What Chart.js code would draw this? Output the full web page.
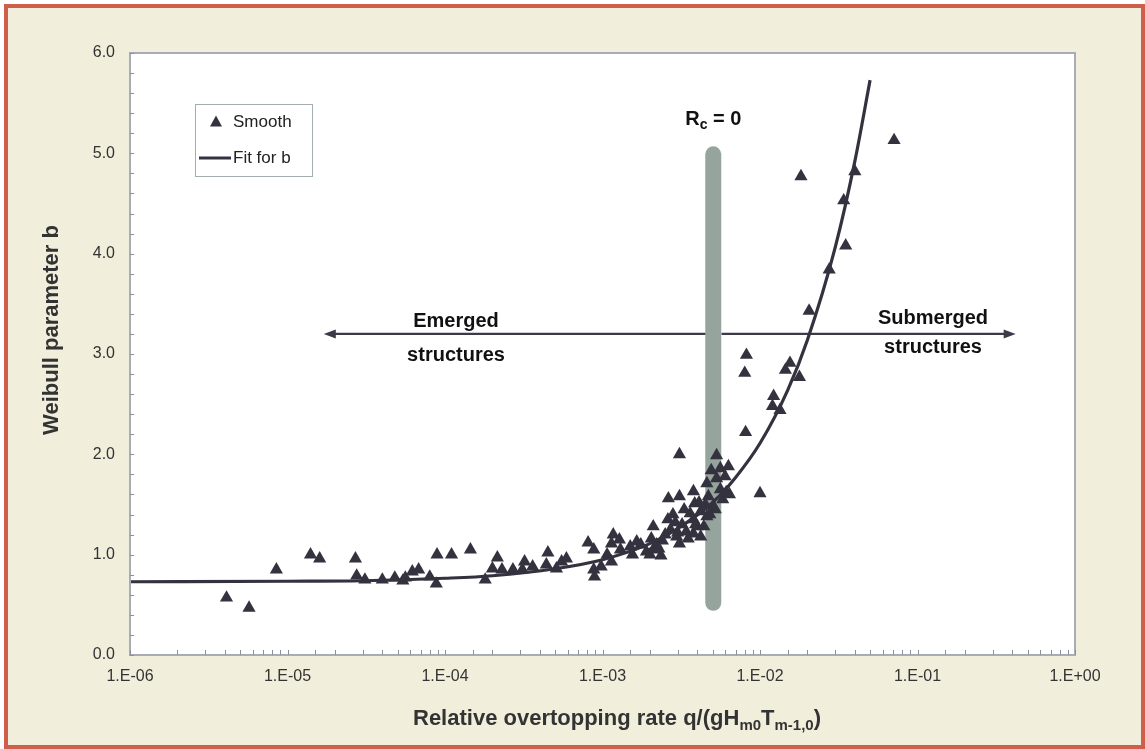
<!DOCTYPE html>
<html>
<head>
<meta charset="utf-8">
<script src="https://cdn.jsdelivr.net/npm/chart.js@4.4.0/dist/chart.umd.min.js"></script>
<style>
  html, body { margin: 0; padding: 0; background: #fff; }
  #frame {
    position: absolute; left: 4px; top: 4px; width: 1141px; height: 745px;
    box-sizing: border-box; border: 4px solid #cf5e4a; background: #f1efdc;
  }
  canvas { position: absolute; left: 0; top: 0; }
</style>
</head>
<body>
<div id="frame"></div>
<canvas id="chart" width="1145" height="749"></canvas>
<script>
// measured points ("Smooth")
const smoothQ = [
  4.1e-6, 5.7e-6, 8.5e-6, 1.4e-5, 1.6e-5, 2.7e-5, 2.75e-5, 3.1e-5, 4.0e-5, 4.8e-5,
  5.4e-5, 5.6e-5, 6.2e-5, 6.8e-5, 8.0e-5, 8.8e-5, 8.9e-5, 1.1e-4, 1.45e-4, 1.8e-4,
  2.0e-4, 2.15e-4, 2.3e-4, 2.7e-4, 3.1e-4, 3.2e-4, 3.6e-4, 4.4e-4, 4.5e-4, 5.1e-4,
  5.5e-4, 5.9e-4, 8.1e-4, 8.8e-4, 8.8e-4, 8.9e-4, 9.8e-4, 1.07e-3, 1.14e-3, 1.14e-3,
  1.17e-3, 1.28e-3, 1.3e-3, 1.5e-3, 1.55e-3, 1.65e-3, 1.75e-3, 1.9e-3, 2.0e-3, 2.04e-3,
  2.1e-3, 2.1e-3, 2.2e-3, 2.28e-3, 2.35e-3, 2.5e-3, 2.62e-3, 2.7e-3, 2.8e-3, 2.96e-3,
  3.08e-3, 3.08e-3, 3.08e-3, 3.2e-3, 3.4e-3, 3.5e-3, 3.6e-3, 3.78e-3, 3.78e-3, 3.78e-3,
  3.85e-3, 4.0e-3, 4.2e-3, 4.2e-3, 4.4e-3, 4.5e-3, 4.6e-3, 4.6e-3, 4.7e-3, 4.9e-3,
  5.06e-3, 5.2e-3, 5.3e-3, 5.3e-3, 5.6e-3, 5.6e-3, 5.8e-3, 6.0e-3, 6.1e-3, 6.3e-3,
  6.4e-3, 8.0e-3, 8.1e-3, 8.2e-3, 1.0e-2, 1.2e-2, 1.22e-2, 1.34e-2, 1.45e-2, 1.55e-2,
  1.78e-2, 1.82e-2, 2.05e-2, 2.75e-2, 3.4e-2, 3.5e-2, 4.0e-2, 7.1e-2,
  2.4e-3, 2.9e-3, 3.3e-3, 3.9e-3, 4.1e-3, 4.8e-3, 2.6e-3, 3.0e-3
];
const smoothB = [
  0.57, 0.47, 0.85, 1.00, 0.96, 0.96, 0.79, 0.75, 0.75, 0.77,
  0.74, 0.77, 0.83, 0.85, 0.78, 0.71, 1.00, 1.00, 1.05, 0.75,
  0.86, 0.97, 0.85, 0.85, 0.85, 0.93, 0.88, 0.90, 1.02, 0.86,
  0.93, 0.96, 1.12, 1.05, 0.85, 0.78, 0.88, 1.00, 0.93, 1.11,
  1.20, 1.15, 1.05, 1.08, 1.00, 1.13, 1.10, 1.03, 1.00, 1.16,
  1.28, 1.05, 1.10, 1.06, 0.99, 1.20, 1.56, 1.25, 1.40, 1.18,
  1.58, 2.00, 1.11, 1.30, 1.23, 1.16, 1.41, 1.63, 1.35, 1.21,
  1.51, 1.28, 1.18, 1.43, 1.28, 1.50, 1.71, 1.38, 1.58, 1.84,
  1.48, 1.45, 1.99, 1.76, 1.86, 1.65, 1.55, 1.78, 1.62, 1.88,
  1.60, 2.81, 2.22, 2.99, 1.61, 2.48, 2.58, 2.44, 2.84, 2.91,
  2.77, 4.77, 3.43, 3.84, 4.53, 4.08, 4.82, 5.13,
  1.14, 1.32, 1.45, 1.30, 1.52, 1.40, 1.35, 1.22
];

// fitted curve ("Fit for b")
const fitQ = [1e-6, 1e-5, 3e-5, 1e-4, 2e-4, 5e-4, 1e-3, 2e-3, 3e-3, 5e-3, 7e-3, 1e-2, 1.5e-2, 2e-2, 3e-2, 4e-2, 5e-2];
const fitB = [0.73, 0.735, 0.74, 0.765, 0.79, 0.86, 0.95, 1.11, 1.26, 1.52, 1.77, 2.11, 2.64, 3.14, 4.06, 4.92, 5.73];

const xTickLabels = ['1.E-06', '1.E-05', '1.E-04', '1.E-03', '1.E-02', '1.E-01', '1.E+00'];
const yTickLabels = ['0.0', '1.0', '2.0', '3.0', '4.0', '5.0', '6.0'];

// Rc = 0 marker and the two arrows
const rcQ = 5.05e-3;
const rcFrom = 0.52, rcTo = 4.99;
const arrowB = 3.2;
const emergedFrom = 4.5e-3, emergedTo = 1.7e-5;
const submergedFrom = 5.7e-3, submergedTo = 0.42;

const INK = '#34323f';
const FONT = '"Liberation Sans", Arial, sans-serif';

function drawArrow(ctx, x0, x1, y) {
  const dir = x1 > x0 ? 1 : -1;
  ctx.strokeStyle = '#3c3a48';
  ctx.fillStyle = '#3c3a48';
  ctx.lineWidth = 2.2;
  ctx.lineCap = 'butt';
  ctx.beginPath();
  ctx.moveTo(x0, y);
  ctx.lineTo(x1 - dir * 8, y);
  ctx.stroke();
  ctx.beginPath();
  ctx.moveTo(x1, y);
  ctx.lineTo(x1 - dir * 12, y - 4.5);
  ctx.lineTo(x1 - dir * 12, y + 4.5);
  ctx.closePath();
  ctx.fill();
}

// text with subscript parts: [[text, isSub], ...]
function drawRich(ctx, parts, cx, baseline, size, subSize, subDrop) {
  let total = 0;
  parts.forEach(([t, sub]) => {
    ctx.font = 'bold ' + (sub ? subSize : size) + 'px ' + FONT;
    total += ctx.measureText(t).width;
  });
  let x = cx - total / 2;
  ctx.textAlign = 'left';
  ctx.textBaseline = 'alphabetic';
  parts.forEach(([t, sub]) => {
    ctx.font = 'bold ' + (sub ? subSize : size) + 'px ' + FONT;
    ctx.fillText(t, x, baseline + (sub ? subDrop : 0));
    x += ctx.measureText(t).width;
  });
}

const decorations = {
  id: 'decorations',
  beforeDraw(chart) {
    const { ctx, chartArea: a } = chart;
    ctx.save();
    ctx.fillStyle = '#fff';
    ctx.fillRect(a.left, a.top, a.right - a.left, a.bottom - a.top);
    ctx.restore();
  },
  beforeDatasetsDraw(chart) {
    const { ctx } = chart;
    const xs = chart.scales.x, ys = chart.scales.y;
    ctx.save();
    ctx.strokeStyle = '#95a59e';
    ctx.lineWidth = 16;
    ctx.lineCap = 'round';
    ctx.beginPath();
    ctx.moveTo(xs.getPixelForValue(rcQ), ys.getPixelForValue(rcFrom));
    ctx.lineTo(xs.getPixelForValue(rcQ), ys.getPixelForValue(rcTo));
    ctx.stroke();

    const ay = ys.getPixelForValue(arrowB);
    drawArrow(ctx, xs.getPixelForValue(emergedFrom), xs.getPixelForValue(emergedTo), ay);
    drawArrow(ctx, xs.getPixelForValue(submergedFrom), xs.getPixelForValue(submergedTo), ay);
    ctx.restore();
  },
  afterDraw(chart) {
    const { ctx, chartArea: a } = chart;
    const xs = chart.scales.x, ys = chart.scales.y;
    ctx.save();

    // frame of plot area
    ctx.strokeStyle = '#a8acb6';
    ctx.lineWidth = 2;
    ctx.strokeRect(a.left, a.top, a.right - a.left, a.bottom - a.top);

    // inward tick marks
    ctx.lineWidth = 1;
    ctx.strokeStyle = '#8c909a';
    ctx.beginPath();
    xs.ticks.forEach(t => {
      const p = Math.round(xs.getPixelForValue(t.value)) + 0.5;
      ctx.moveTo(p, a.bottom);
      ctx.lineTo(p, a.bottom - 5);
    });
    ys.ticks.forEach(t => {
      const p = Math.round(ys.getPixelForValue(t.value)) + 0.5;
      ctx.moveTo(a.left, p);
      ctx.lineTo(a.left + 4, p);
    });
    ctx.stroke();

    // annotations
    ctx.fillStyle = '#111';
    const rx = xs.getPixelForValue(rcQ);
    drawRich(ctx, [['R', false], ['c', true], [' = 0', false]], rx, 125, 20, 14, 4);
    ctx.font = 'bold 20px ' + FONT;
    ctx.textAlign = 'center';
    ctx.textBaseline = 'middle';
    ctx.fillText('Emerged', 456, 321);
    ctx.fillText('structures', 456, 355);
    ctx.fillText('Submerged', 933, 318);
    ctx.fillText('structures', 933, 347);

    // axis titles
    ctx.fillStyle = '#333';
    drawRich(ctx, [
      ['Relative overtopping rate q/(gH', false], ['m0', true], ['T', false],
      ['m-1,0', true], [')', false]
    ], 617, 725, 22, 15, 5);
    ctx.save();
    ctx.translate(52, 330);
    ctx.rotate(-Math.PI / 2);
    ctx.font = 'bold 22px ' + FONT;
    ctx.textAlign = 'center';
    ctx.textBaseline = 'middle';
    ctx.fillText('Weibull parameter b', 0, 0);
    ctx.restore();

    // legend box
    const ds = chart.data.datasets;
    ctx.fillStyle = '#fff';
    ctx.fillRect(195, 104, 117, 72);
    ctx.strokeStyle = '#a3aeb0';
    ctx.lineWidth = 1;
    ctx.strokeRect(195.5, 104.5, 117, 72);
    ctx.fillStyle = ds[0].backgroundColor;
    ctx.beginPath();
    ctx.moveTo(216, 115.5);
    ctx.lineTo(222, 126.5);
    ctx.lineTo(210, 126.5);
    ctx.closePath();
    ctx.fill();
    ctx.strokeStyle = ds[1].borderColor;
    ctx.lineWidth = 3;
    ctx.beginPath();
    ctx.moveTo(199, 158);
    ctx.lineTo(231, 158);
    ctx.stroke();
    ctx.fillStyle = '#222';
    ctx.font = '17px ' + FONT;
    ctx.textAlign = 'left';
    ctx.textBaseline = 'middle';
    ctx.fillText(ds[0].label, 233, 122);
    ctx.fillText(ds[1].label, 233, 158);

    ctx.restore();
  }
};

new Chart(document.getElementById('chart'), {
  type: 'scatter',
  data: {
    datasets: [
      {
        label: 'Smooth',
        data: smoothQ.map((q, i) => ({ x: q, y: smoothB[i] })),
        pointStyle: 'triangle',
        pointRadius: 7.6,
        backgroundColor: INK,
        borderWidth: 0,
        order: 1
      },
      {
        label: 'Fit for b',
        type: 'line',
        data: fitQ.map((q, i) => ({ x: q, y: fitB[i] })),
        borderColor: INK,
        borderWidth: 3.2,
        pointRadius: 0,
        cubicInterpolationMode: 'monotone',
        fill: false,
        order: 0
      }
    ]
  },
  options: {
    responsive: false,
    animation: false,
    layout: { padding: { left: 0, top: 53, right: 70, bottom: 0 } },
    plugins: {
      legend: { display: false },
      tooltip: { enabled: false }
    },
    scales: {
      x: {
        type: 'logarithmic',
        min: 1e-6,
        max: 1,
        afterFit(scale) { scale.height = 94; },
        grid: { display: false, drawTicks: false },
        border: { display: false },
        ticks: {
          autoSkip: false,
          maxRotation: 0,
          padding: 12,
          color: '#333',
          font: { family: FONT, size: 16 },
          callback(value) {
            const e = Math.log10(value);
            const r = Math.round(e);
            return Math.abs(e - r) < 1e-6 ? xTickLabels[r + 6] : '';
          }
        }
      },
      y: {
        min: 0,
        max: 6,
        afterFit(scale) { scale.width = 130; },
        grid: { display: false, drawTicks: false },
        border: { display: false },
        ticks: {
          stepSize: 0.2,
          autoSkip: false,
          padding: 15,
          color: '#333',
          font: { family: FONT, size: 16 },
          callback(value) {
            const r = Math.round(value);
            return Math.abs(value - r) < 1e-6 ? yTickLabels[r] : '';
          }
        }
      }
    }
  },
  plugins: [decorations]
});
</script>
</body>
</html>
